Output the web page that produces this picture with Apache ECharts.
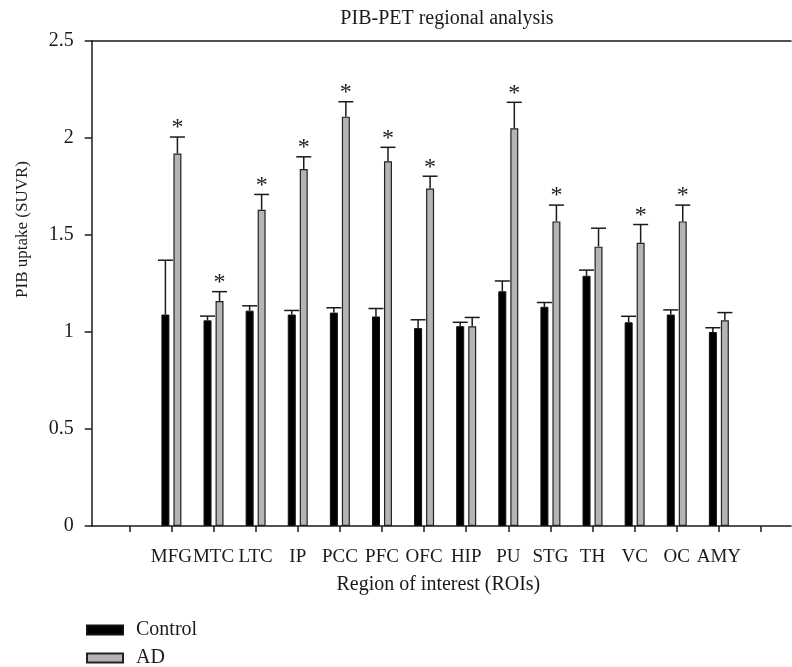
<!DOCTYPE html>
<html>
<head>
<meta charset="utf-8">
<script src="https://cdn.jsdelivr.net/npm/echarts@6/dist/echarts.min.js"></script>
<style>html,body{margin:0;padding:0;background:#fff;}#c{width:792px;height:667px;}</style>
</head>
<body>
<div id="c"></div>
<script>
// Data
const categories = ['MFG','MTC','LTC','IP','PCC','PFC','OFC','HIP','PU','STG','TH','VC','OC','AMY'];
const control    = [1.09,1.06,1.11,1.09,1.10,1.08,1.02,1.03,1.21,1.13,1.29,1.05,1.09,1.00];
const controlErr = [0.28,0.022,0.025,0.021,0.025,0.041,0.043,0.02,0.053,0.022,0.029,0.031,0.024,0.022];
const ad         = [1.92,1.16,1.63,1.84,2.11,1.88,1.74,1.03,2.05,1.57,1.44,1.46,1.57,1.06];
const adErr      = [0.085,0.048,0.079,0.063,0.077,0.072,0.063,0.045,0.134,0.084,0.095,0.094,0.084,0.04];
const significant = [1,1,1,1,1,1,1,0,1,1,0,1,1,0];
const yTicks = [0, 0.5, 1, 1.5, 2, 2.5];

const FONT = 'Liberation Serif';
const INK = '#1a1a1a';
const tickPositions = [];
for (let i = 0; i <= categories.length + 1; i++) tickPositions.push(i);
const labelPositions = categories.map((c, i) => i + 1);

const ctrlData = control.map((v, i) => [i + 1, v]);
const adData = ad.map((v, i) => [i + 1, v]);
const errData = [];
control.forEach((v, i) => errData.push([i + 1, v, v + controlErr[i], -1, 0]));
ad.forEach((v, i) => errData.push([i + 1, v, v + adErr[i], 1, significant[i]]));

const X_MIN = -0.893, X_MAX = 15.713;

const chart = echarts.init(document.getElementById('c'));
chart.setOption({
  animation: false,
  backgroundColor: '#fff',
  title: {
    text: 'PIB-PET regional analysis',
    left: 442, top: 4, textAlign: 'center',
    textStyle: { fontFamily: FONT, fontSize: 20, fontWeight: 'normal', color: INK }
  },
  legend: {
    orient: 'vertical', left: 86, top: 620, padding: 0, height: 70,
    itemWidth: 36, itemHeight: 9, itemGap: 8,
    icon: 'rect',
    data: ['Control', 'AD'],
    textStyle: { fontFamily: FONT, fontSize: 20, lineHeight: 19, color: INK, padding: [0, 0, 0, 8] }
  },
  grid: { left: 91.7, right: 1, top: 41, bottom: 141, containLabel: false },
  xAxis: [{
    type: 'value', min: X_MIN, max: X_MAX, position: 'bottom',
    name: 'Region of interest (ROIs)', nameLocation: 'middle', nameGap: 49,
    nameTextStyle: { fontFamily: FONT, fontSize: 20, color: INK, padding: [0, 6, 0, 0] },
    splitLine: { show: false },
    axisLine: { show: true, onZero: false, lineStyle: { color: INK, width: 1.5 } },
    axisTick: { show: true, length: 6, customValues: tickPositions, lineStyle: { color: INK, width: 1.5 } },
    axisLabel: {
      show: true, customValues: labelPositions, margin: 22,
      showMinLabel: true, showMaxLabel: true, hideOverlap: false,
      fontFamily: FONT, fontSize: 19, color: INK,
      formatter: v => categories[Math.round(v) - 1] || ''
    }
  }, {
    type: 'value', min: X_MIN, max: X_MAX, position: 'top',
    splitLine: { show: false },
    axisLine: { show: true, onZero: false, lineStyle: { color: INK, width: 1.5 } },
    axisTick: { show: false }, axisLabel: { show: false }
  }],
  yAxis: {
    type: 'value', min: 0, max: 2.5, interval: 0.5,
    name: 'PIB uptake (SUVR)', nameLocation: 'middle', nameGap: 61, nameRotate: 90,
    nameTextStyle: { fontFamily: FONT, fontSize: 17, color: INK, padding: [0, 0, 0, 108] },
    splitLine: { show: false },
    axisLine: { show: true, onZero: false, lineStyle: { color: INK, width: 1.5 } },
    axisTick: { show: true, length: 7, inside: false, lineStyle: { color: INK, width: 1.5 } },
    axisLabel: {
      margin: 18, fontFamily: FONT, fontSize: 20, color: INK,
      formatter: v => String(v)
    }
  },
  series: [
    {
      name: 'Control', type: 'bar', data: ctrlData, barWidth: 8, barGap: '50%',
      itemStyle: { color: '#000', borderColor: '#111', borderWidth: 1 }
    },
    {
      name: 'AD', type: 'bar', data: adData, barWidth: 8, barGap: '50%',
      itemStyle: { color: '#b4b4b4', borderColor: '#222', borderWidth: 1.2 }
    },
    {
      type: 'custom', name: 'err', data: errData, z: 5,
      encode: { x: 0, y: [1, 2] },
      renderItem: function (params, api) {
        const x = api.value(0), y = api.value(1), top = api.value(2), side = api.value(3), sig = api.value(4);
        const base = api.coord([x, y]);
        const tp = api.coord([x, top]);
        const cx = base[0] + side * 6;
        const children = [
          { type: 'line', shape: { x1: cx, y1: base[1], x2: cx, y2: tp[1] }, style: { stroke: INK, lineWidth: 1.5 } },
          { type: 'line', shape: { x1: cx - 7.5, y1: tp[1], x2: cx + 7.5, y2: tp[1] }, style: { stroke: INK, lineWidth: 1.5 } }
        ];
        if (sig) {
          children.push({ type: 'text', x: cx, y: tp[1] - 9,
            style: { text: '*', fontFamily: FONT, fontSize: 24, fill: INK, align: 'center', verticalAlign: 'middle' } });
        }
        return { type: 'group', children: children };
      }
    }
  ]
});
</script>
</body>
</html>
